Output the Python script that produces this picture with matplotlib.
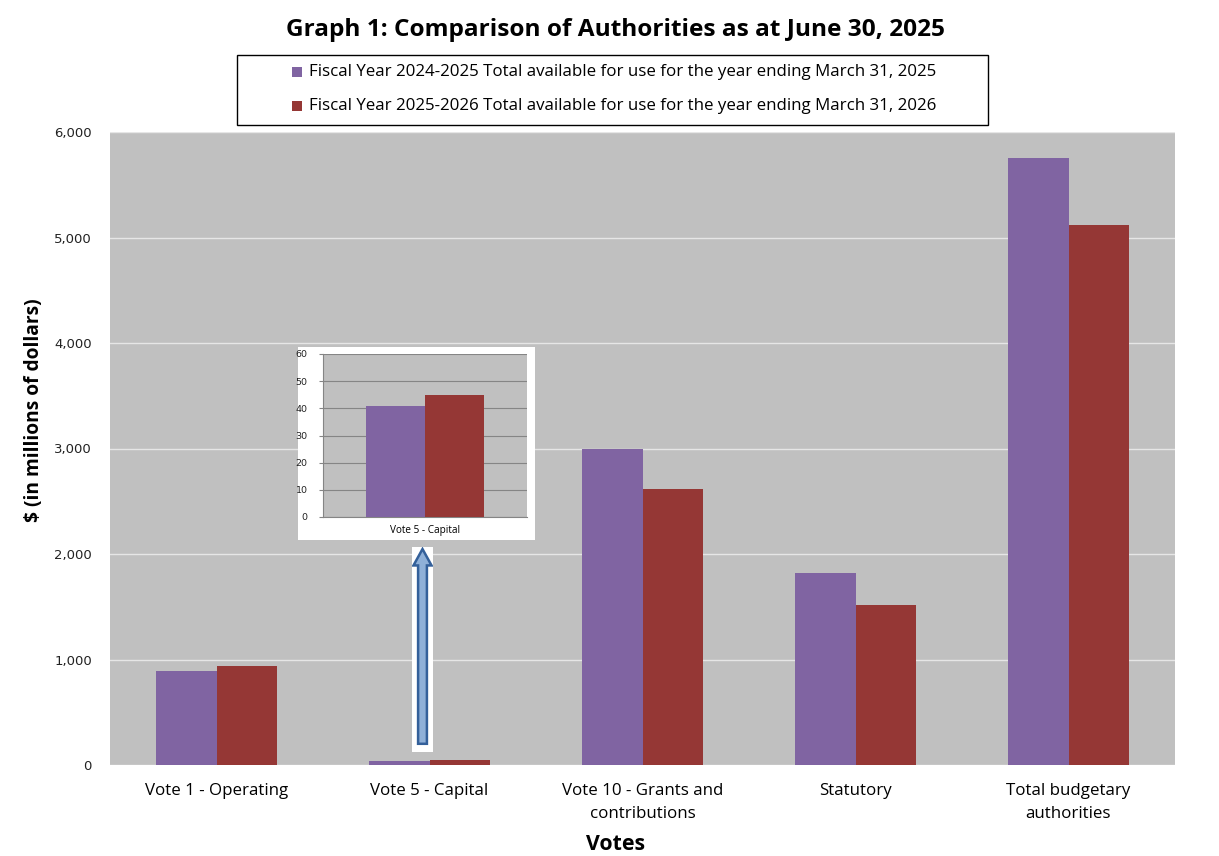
import matplotlib
matplotlib.use("Agg")
import matplotlib.pyplot as plt
import numpy as np
from matplotlib.patches import FancyArrow, Rectangle

categories = ["Vote 1 - Operating", "Vote 5 - Capital", "Vote 10 - Grants and\ncontributions",
              "Statutory", "Total budgetary\nauthorities"]
fy2425 = [895, 41, 2995, 1820, 5756]
fy2526 = [940, 45, 2615, 1518, 5118]
series_labels = ["Fiscal Year 2024-2025 Total available for use for the year ending March 31, 2025",
                 "Fiscal Year 2025-2026 Total available for use for the year ending March 31, 2026"]
inset_category = ["Vote 5 - Capital"]
inset_2425 = [41]
inset_2526 = [45]
yticks = [0, 1000, 2000, 3000, 4000, 5000, 6000]
inset_yticks = [0, 10, 20, 30, 40, 50, 60]

purple = "#8064A2"
red = "#953735"
bg = "#C0C0C0"
colors = [purple, red]

W, H = 1219, 856
fig = plt.figure(figsize=(W / 100, H / 100), dpi=100)

def rect(x0, y0, x1, y1):
    return [x0 / W, 1 - y1 / H, (x1 - x0) / W, (y1 - y0) / H]

def fx(px):
    return px / W

def fy(py):
    return 1 - py / H

ax = fig.add_axes(rect(110, 132, 1175, 765))
ax.set_facecolor(bg)
x = np.arange(len(categories))
bw = 0.286
ax.bar(x - bw / 2, fy2425, bw, color=purple, label=series_labels[0], zorder=3)
ax.bar(x + bw / 2, fy2526, bw, color=red, label=series_labels[1], zorder=3)
ax.set_xlim(-0.5, len(categories) - 0.5)
ax.set_ylim(0, 6000)
ax.set_yticks(yticks)
ax.set_yticklabels([f"{v:,}" for v in yticks], family="DejaVu Sans", fontsize=9.5, color="#222222")
ax.set_xticks(x)
ax.set_xticklabels(categories, family="Open Sans", fontsize=12.2, linespacing=1.6)
ax.grid(axis="y", color="#E6E6E6", linewidth=1, zorder=1)
for s in ax.spines.values():
    s.set_visible(False)
ax.tick_params(axis="y", length=0, pad=13)
ax.tick_params(axis="x", length=0, pad=13)

fig.text(fx(34), fy(410), "$ (in millions of dollars)", rotation=90, ha="center", va="center",
         family="Open Sans", fontweight="bold", fontsize=13.8)
fig.text(fx(615), fy(845), "Votes", ha="center", va="center",
         family="Open Sans", fontweight="bold", fontsize=15.3)
fig.text(fx(615), fy(30), "Graph 1: Comparison of Authorities as at June 30, 2025",
         ha="center", va="center", family="Open Sans", fontweight="bold", fontsize=17.6)

# Legend box (manual)
fig.patches.append(Rectangle((fx(237), fy(125)), fx(988) - fx(237), fy(55) - fy(125),
                             transform=fig.transFigure, facecolor="white", edgecolor="black",
                             linewidth=1, zorder=5))
for i, (lab, col) in enumerate(zip(series_labels, colors)):
    yc = 72 + 34 * i
    fig.patches.append(Rectangle((fx(292), fy(yc + 5)), fx(302) - fx(292), fy(yc - 5) - fy(yc + 5),
                                 transform=fig.transFigure, facecolor=col, edgecolor="none", zorder=6))
    fig.text(fx(309), fy(yc), lab, ha="left", va="center", family="Open Sans",
             fontsize=12.2, zorder=7)

# Inset white background box
bgax = fig.add_axes(rect(298, 347, 535, 540))
bgax.set_facecolor("white")
bgax.set_xticks([]); bgax.set_yticks([])
for s in bgax.spines.values():
    s.set_visible(False)

iax = fig.add_axes(rect(323, 354, 527, 517))
iax.set_facecolor(bg)
ibw = 0.29
iax.bar([-ibw / 2], inset_2425, ibw, color=purple, zorder=3)
iax.bar([ibw / 2], inset_2526, ibw, color=red, zorder=3)
iax.set_xlim(-0.5, 0.5)
iax.set_ylim(0, 60)
iax.set_yticks(inset_yticks)
iax.set_yticklabels([str(v) for v in inset_yticks], family="DejaVu Sans", fontsize=6.8, color="#222222")
iax.set_xticks([0])
iax.set_xticklabels(inset_category, family="Open Sans", fontsize=7.2)
iax.grid(axis="y", color="#858585", linewidth=0.8, zorder=1)
for k, s in iax.spines.items():
    s.set_visible(k in ("left", "bottom"))
    s.set_color("#858585")
iax.tick_params(axis="y", length=3, color="#858585", pad=8)
iax.tick_params(axis="x", length=0, pad=6)

# Arrow with white background
aax = fig.add_axes(rect(412, 547, 433, 752))
aax.set_xlim(0, 1); aax.set_ylim(0, 1)
aax.set_facecolor("white")
aax.set_xticks([]); aax.set_yticks([])
for s in aax.spines.values():
    s.set_visible(False)
aax.add_patch(FancyArrow(0.5, 0.04, 0, 0.95, width=0.42, head_width=0.86, head_length=0.08,
                         length_includes_head=True, facecolor="#8FB0D8", edgecolor="#34609A",
                         linewidth=1.8))

fig.savefig("out.png", dpi=100)
